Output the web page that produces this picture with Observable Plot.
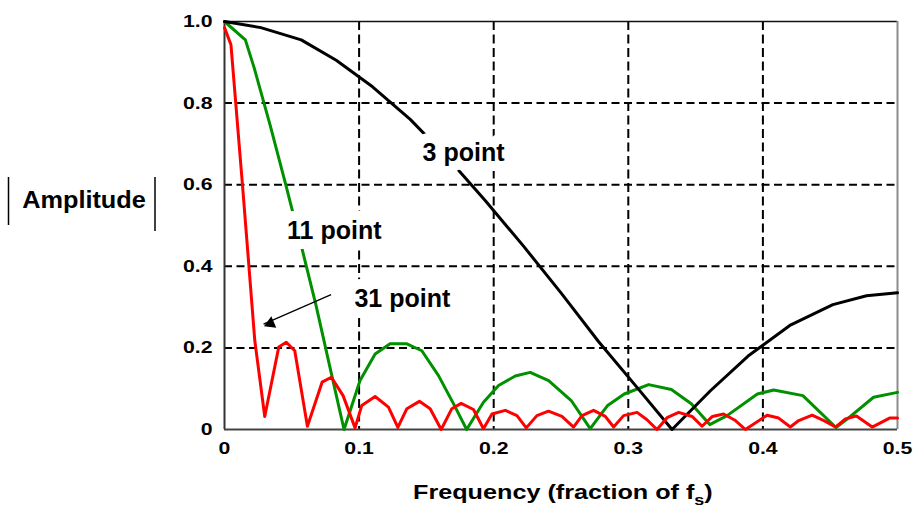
<!DOCTYPE html>
<html>
<head>
<meta charset="utf-8">
<script src="https://cdn.jsdelivr.net/npm/d3@7"></script>
<script src="https://cdn.jsdelivr.net/npm/@observablehq/plot@0.6"></script>
<style>
  body { margin: 0; background: #fff; }
  #chart { width: 923px; height: 508px; }
</style>
</head>
<body>
<div id="chart"></div>
<script>
// ---- axis ticks and labels ----
const xTicks = [0, 0.1, 0.2, 0.3, 0.4, 0.5];
const xTickLabels = ["0", "0.1", "0.2", "0.3", "0.4", "0.5"];
const yTicks = [0, 0.2, 0.4, 0.6, 0.8, 1.0];
const yTickLabels = ["0", "0.2", "0.4", "0.6", "0.8", "1.0"];
const xGrid = [0.1, 0.2, 0.3, 0.4];
const yGrid = [0.2, 0.4, 0.6, 0.8];

// ---- 3 point moving average (black) ----
const freq3 = [0, 0.027, 0.057, 0.083, 0.11, 0.138, 0.166, 0.194, 0.222, 0.25, 0.278, 0.306, 0.3325, 0.361, 0.389, 0.42, 0.452, 0.477, 0.5];
const amp3  = [1.0, 0.985, 0.955, 0.905, 0.84, 0.76, 0.665, 0.56, 0.45, 0.335, 0.215, 0.105, 0.0, 0.095, 0.18, 0.255, 0.306, 0.328, 0.335];

// ---- 11 point moving average (green) ----
const freq11 = [0, 0.0155, 0.022, 0.034, 0.0457, 0.057, 0.068, 0.0792, 0.0888, 0.1007, 0.1119, 0.123, 0.1355, 0.1466, 0.159, 0.170, 0.1799, 0.1924, 0.2036, 0.216, 0.2271, 0.2408, 0.2576, 0.2717, 0.2844, 0.297, 0.3151, 0.332, 0.3468, 0.3605, 0.3734, 0.3959, 0.408, 0.4297, 0.4543, 0.4628, 0.4822, 0.5];
const amp11  = [1.0, 0.955, 0.887, 0.745, 0.598, 0.451, 0.304, 0.14, 0.0, 0.12, 0.185, 0.21, 0.21, 0.193, 0.132, 0.064, 0.0, 0.067, 0.108, 0.131, 0.14, 0.12, 0.071, 0.002, 0.058, 0.087, 0.11, 0.098, 0.063, 0.012, 0.034, 0.087, 0.097, 0.083, 0.005, 0.026, 0.079, 0.091];

// ---- 31 point moving average (red) ----
const freq31 = [0, 0.0048, 0.0134, 0.0225, 0.0299, 0.0403, 0.0459, 0.0522, 0.0616, 0.0725, 0.0794, 0.0881, 0.097, 0.102, 0.1119, 0.1218, 0.1288, 0.1355, 0.1448, 0.1528, 0.161, 0.1689, 0.1758, 0.185, 0.1924, 0.1987, 0.2086, 0.2173, 0.2242, 0.2321, 0.2407, 0.2507, 0.2593, 0.2656, 0.2742, 0.2829, 0.2891, 0.2965, 0.3065, 0.3139, 0.3213, 0.3288, 0.3374, 0.3474, 0.3548, 0.3625, 0.3708, 0.3796, 0.387, 0.4031, 0.4117, 0.4204, 0.4266, 0.4366, 0.4457, 0.4539, 0.4613, 0.4695, 0.4812, 0.4941, 0.5];
const amp31  = [0.985, 0.943, 0.598, 0.218, 0.032, 0.202, 0.214, 0.193, 0.008, 0.116, 0.128, 0.083, 0.004, 0.059, 0.081, 0.055, 0.005, 0.051, 0.069, 0.051, 0.0, 0.051, 0.064, 0.049, 0.002, 0.038, 0.047, 0.034, 0.004, 0.034, 0.045, 0.032, 0.006, 0.034, 0.047, 0.032, 0.006, 0.034, 0.042, 0.024, 0.0, 0.029, 0.042, 0.032, 0.008, 0.032, 0.038, 0.022, 0.0, 0.035, 0.028, 0.006, 0.022, 0.035, 0.021, 0.006, 0.026, 0.033, 0.006, 0.028, 0.028];

// ---- annotations ----
const labelText = ["3 point", "11 point", "31 point"];
const labelFreq = [0.1776, 0.0816, 0.1321];
const labelAmp  = [0.677, 0.4866, 0.3208];
const arrowStart = [0.0792, 0.3306];
const arrowTip   = [0.029, 0.2584];
const arrowHead  = [0.0342, 0.2601];

const xTitle = "Frequency (fraction of f";
const xTitleSub = "s";
const yTitle = "Amplitude";

const rows = (fs, as) => fs.map((f, i) => ({f, a: as[i]}));
const labels = labelText.map((t, i) => ({t, f: labelFreq[i], a: labelAmp[i]}));

const FONT = "'Liberation Sans', Arial, sans-serif";

const plot = Plot.plot({
  width: 923,
  height: 508,
  marginLeft: 224,
  marginRight: 26,
  marginTop: 21,
  marginBottom: 79,
  style: {fontFamily: FONT, fontWeight: "bold", fontSize: "17px", color: "black", background: "white", overflow: "visible"},
  x: {domain: [0, 0.5], ticks: xTicks, tickFormat: d => xTickLabels[xTicks.indexOf(d)], tickSize: 0, tickPadding: 12, label: null},
  y: {domain: [0, 1], ticks: yTicks, tickFormat: d => yTickLabels[yTicks.indexOf(d)], tickSize: 0, tickPadding: 12, label: null},
  marks: [
    Plot.ruleX(xGrid, {stroke: "black", strokeWidth: 2, strokeDasharray: "9,4.5"}),
    Plot.ruleY(yGrid, {stroke: "black", strokeWidth: 2, strokeDasharray: "8,4.5"}),
    Plot.ruleY([1], {stroke: "#111", strokeWidth: 1.6}),
    Plot.ruleX([0.5], {stroke: "#8c8c8c", strokeWidth: 2}),
    Plot.ruleX([0], {stroke: "#333", strokeWidth: 2}),
    Plot.ruleY([0], {stroke: "#444", strokeWidth: 2}),
    Plot.line(rows(freq11, amp11), {x: "f", y: "a", stroke: "#009000", strokeWidth: 3, strokeLinejoin: "round"}),
    Plot.line(rows(freq3, amp3), {x: "f", y: "a", stroke: "black", strokeWidth: 3, strokeLinejoin: "round"}),
    Plot.line(rows(freq31, amp31), {x: "f", y: "a", stroke: "#ff0000", strokeWidth: 3, strokeLinejoin: "round"}),
    Plot.text(labels, {x: "f", y: "a", text: "t", fontSize: 25, fontWeight: "bold", fill: "black",
      stroke: "white", strokeWidth: 20, strokeLinejoin: "round", textAnchor: "middle", lineAnchor: "middle"}),
    Plot.link([{x1: arrowStart[0], y1: arrowStart[1], x2: arrowTip[0], y2: arrowTip[1]}],
      {x1: "x1", y1: "y1", x2: "x2", y2: "y2", stroke: "black", strokeWidth: 1.3}),
    Plot.dot([{f: arrowHead[0], a: arrowHead[1]}], {x: "f", y: "a", symbol: "triangle", r: 4.6, fill: "black", stroke: "none", rotate: 246.5})
  ]
});

// stretch tick labels horizontally (reference glyphs are wide)
plot.querySelectorAll("text").forEach(t => {
  const g = t.closest('[aria-label$="tick label"], g.tick');
  if (!g) return;
  const tr = t.getAttribute("transform") || "";
  t.setAttribute("transform", (tr + " scale(1.25,1)").trim());
});

const svg = d3.select(plot);
// y-axis title with absolute-value bars
svg.append("text")
  .attr("transform", "translate(84,207.5) scale(1.1,1)")
  .attr("text-anchor", "middle")
  .attr("fill", "black")
  .style("font", `bold 23px ${FONT}`)
  .text(yTitle);
svg.append("line").attr("x1", 8.5).attr("x2", 8.5).attr("y1", 177).attr("y2", 225).attr("stroke", "black").attr("stroke-width", 1.5);
svg.append("line").attr("x1", 155).attr("x2", 155).attr("y1", 177).attr("y2", 231).attr("stroke", "black").attr("stroke-width", 1.5);

// x-axis title with subscript
const xt = svg.append("text")
  .attr("transform", "translate(413,498.5) scale(1.2,1)")
  .attr("text-anchor", "start")
  .attr("fill", "black")
  .style("font", `bold 21px ${FONT}`);
xt.append("tspan").text(xTitle);
xt.append("tspan").attr("dy", 6).style("font-size", "15px").text(xTitleSub);
xt.append("tspan").attr("dy", -6).text(")");

document.getElementById("chart").appendChild(plot);
</script>
</body>
</html>
